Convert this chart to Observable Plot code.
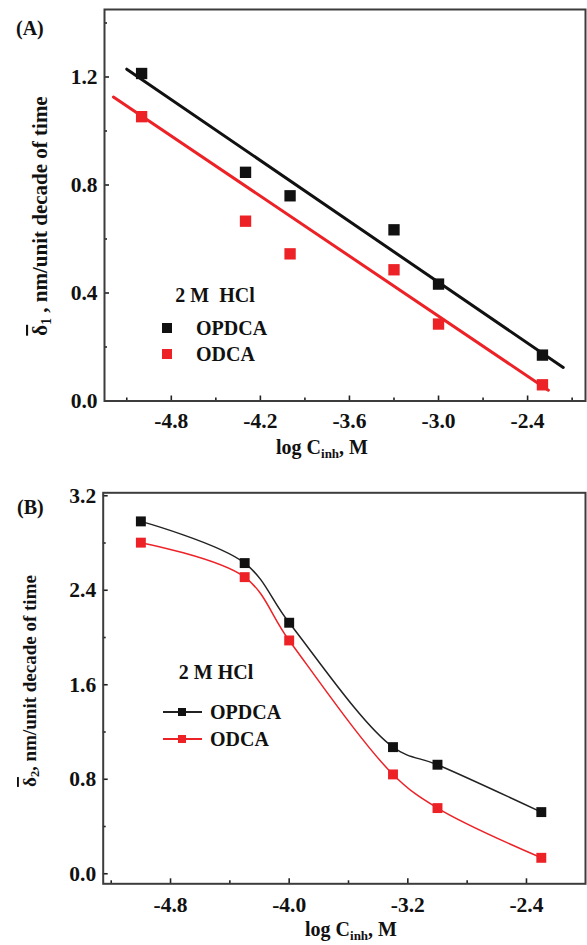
<!DOCTYPE html>
<html>
<head>
<meta charset="utf-8">
<script src="https://cdn.jsdelivr.net/npm/d3@7"></script>
<script src="https://cdn.jsdelivr.net/npm/@observablehq/plot@0.6"></script>
<style>
  body { margin: 0; background: #fff; }
  #fig { position: relative; width: 587px; height: 945px; }
  #fig svg { position: absolute; left: 0; display: block; }
</style>
</head>
<body>
<div id="fig"></div>
<script>
// Inhibitor concentration, log C (M)
const logC = [-5.0, -4.3, -4.0, -3.3, -3.0, -2.3];

// (A) Tafel slope delta1 vs log C
const deltaA_OPDCA = [1.213, 0.847, 0.760, 0.634, 0.433, 0.170];
const deltaA_ODCA  = [1.053, 0.666, 0.545, 0.486, 0.285, 0.060];

// (A) fitted straight lines (end points)
const fitX_OPDCA = [-5.10, -2.16];
const fitY_OPDCA = [1.229, 0.124];
const fitX_ODCA  = [-5.19, -2.26];
const fitY_ODCA  = [1.126, 0.040];

// (B) Tafel slope delta2 vs log C
const deltaB_OPDCA = [2.983, 2.630, 2.125, 1.072, 0.923, 0.522];
const deltaB_ODCA  = [2.803, 2.511, 1.975, 0.841, 0.556, 0.135];

// Axis ticks
const xTicksA = [-4.8, -4.2, -3.6, -3.0, -2.4];
const xMinorA = [-5.1, -4.5, -3.9, -3.3, -2.7, -2.1];
const yTicksA = [0.0, 0.4, 0.8, 1.2];
const yMinorA = [0.2, 0.6, 1.0, 1.4];
const xTicksB = [-4.8, -4.0, -3.2, -2.4];
const xMinorB = [-5.2, -4.4, -3.6, -2.8];
const yTicksB = [0.0, 0.8, 1.6, 2.4, 3.2];
const yMinorB = [0.4, 1.2, 2.0, 2.8];

const seriesNames = ["OPDCA", "ODCA"];

const RED = "#ec2227";
const BLACK = "#111111";
const FONT = '"Liberation Serif", "Times New Roman", serif';
const fmt = d => d.toFixed(1);

const rows = ys => logC.map((x, i) => ({x, y: ys[i]}));
const pairs = (xs, ys) => xs.map((x, i) => ({x, y: ys[i]}));

function axes(xMajor, xMinor, yMajor, yMinor, xPad) {
  const tk = {stroke: "#222", strokeWidth: 1.6, text: null, label: null};
  const lbl = {tickSize: 0, tickFormat: fmt, label: null, fontSize: 21.5};
  return [
    Plot.axisX(xMinor, {...tk, tickSize: -3}),
    Plot.axisX(xMajor, {...tk, tickSize: -5}),
    Plot.axisX(xMajor, {...lbl, tickPadding: xPad}),
    Plot.axisY(yMinor, {...tk, tickSize: -3}),
    Plot.axisY(yMajor, {...tk, tickSize: -5}),
    Plot.axisY(yMajor, {...lbl, tickPadding: 7})
  ];
}

const baseStyle = {
  fontFamily: FONT, fontSize: "20px", fontWeight: "bold",
  color: "#111", background: "transparent", overflow: "visible"
};

// Add SVG text made of plain, subscript and overlined parts
function addText(svg, x, y, parts, {size = 20, anchor = "start", rotate = false} = {}) {
  const t = d3.select(svg).append("text")
    .attr("x", x).attr("y", y)
    .attr("font-family", FONT).attr("font-weight", "bold")
    .attr("font-size", size).attr("fill", "#111")
    .attr("text-anchor", anchor).attr("dominant-baseline", "central");
  if (rotate) t.attr("transform", `rotate(-90 ${x} ${y})`);
  let shifted = false;
  for (const p of parts) {
    if (typeof p === "string") {
      t.append("tspan").attr("dy", shifted ? -0.3 * size : 0).text(p);
      shifted = false;
    } else if (p.over) {
      t.append("tspan").attr("dy", shifted ? -0.3 * size : 0)
        .style("text-decoration", "overline").text(p.over);
      shifted = false;
    } else {
      t.append("tspan").attr("dy", 0.3 * size).attr("font-size", size * 0.65).text(p.sub);
      shifted = true;
    }
  }
  return t;
}

const fig = document.getElementById("fig");

// ---------- Panel A ----------
const plotA = Plot.plot({
  width: 587, height: 470,
  marginLeft: 104, marginRight: 2, marginTop: 9, marginBottom: 69.5,
  style: baseStyle,
  x: {domain: [-5.25, -2.01]},
  y: {domain: [0, 1.45]},
  marks: [
    ...axes(xTicksA, xMinorA, yTicksA, yMinorA, 12),
    Plot.line(pairs(fitX_OPDCA, fitY_OPDCA), {x: "x", y: "y", stroke: BLACK, strokeWidth: 3}),
    Plot.line(pairs(fitX_ODCA, fitY_ODCA), {x: "x", y: "y", stroke: RED, strokeWidth: 3}),
    Plot.dot(rows(deltaA_OPDCA), {x: "x", y: "y", symbol: "square", r: 6.4, fill: BLACK}),
    Plot.dot(rows(deltaA_ODCA), {x: "x", y: "y", symbol: "square", r: 6.4, fill: RED}),
    Plot.frame({stroke: "#3c3c3c", strokeWidth: 2})
  ]
});
plotA.style.top = "0px";
fig.appendChild(plotA);

addText(plotA, 16, 28, ["(A)"]);
addText(plotA, 322, 447, ["log C", {sub: "inh"}, ", M"], {anchor: "middle"});
addText(plotA, 40, 216, [{over: "\u03B4"}, {sub: "1"}, " , nm/unit decade of time"], {anchor: "middle", rotate: true, size: 21});
addText(plotA, 215, 295, ["2 M  HCl"], {anchor: "middle"});
{
  const g = d3.select(plotA).append("g");
  const cols = [BLACK, RED];
  seriesNames.forEach((name, i) => {
    const cy = 328 + i * 26;
    g.append("rect").attr("x", 162).attr("y", cy - 5).attr("width", 10).attr("height", 10).attr("fill", cols[i]);
    addText(plotA, 196, cy, [name]);
  });
}

// ---------- Panel B ----------
const plotB = Plot.plot({
  width: 587, height: 475,
  marginLeft: 102.7, marginRight: 2, marginTop: 22.3, marginBottom: 61.7,
  style: baseStyle,
  x: {domain: [-5.254, -2.002]},
  y: {domain: [-0.085, 3.225]},
  marks: [
    ...axes(xTicksB, xMinorB, yTicksB, yMinorB, 13),
    Plot.line(rows(deltaB_OPDCA), {x: "x", y: "y", stroke: "#222", strokeWidth: 1.5, curve: "catmull-rom"}),
    Plot.line(rows(deltaB_ODCA), {x: "x", y: "y", stroke: RED, strokeWidth: 1.5, curve: "catmull-rom"}),
    Plot.dot(rows(deltaB_OPDCA), {x: "x", y: "y", symbol: "square", r: 5.6, fill: BLACK}),
    Plot.dot(rows(deltaB_ODCA), {x: "x", y: "y", symbol: "square", r: 5.6, fill: RED}),
    Plot.frame({stroke: "#3c3c3c", strokeWidth: 2})
  ]
});
plotB.style.top = "470px";
fig.appendChild(plotB);

addText(plotB, 17, 37, ["(B)"]);
addText(plotB, 351, 459, ["log C", {sub: "inh"}, ", M"], {anchor: "middle"});
addText(plotB, 29, 211, [{over: "\u03B4"}, {sub: "2"}, ", nm/unit decade of time"], {anchor: "middle", rotate: true, size: 19});
addText(plotB, 216, 202, ["2 M HCl"], {anchor: "middle"});
{
  const g = d3.select(plotB).append("g");
  const cols = ["#222", RED];
  const fills = [BLACK, RED];
  seriesNames.forEach((name, i) => {
    const cy = 242 + i * 27;
    g.append("line").attr("x1", 163).attr("x2", 202).attr("y1", cy).attr("y2", cy)
      .attr("stroke", cols[i]).attr("stroke-width", 2);
    g.append("rect").attr("x", 178).attr("y", cy - 4).attr("width", 8).attr("height", 8).attr("fill", fills[i]);
    addText(plotB, 210, cy, [name]);
  });
}
</script>
</body>
</html>
